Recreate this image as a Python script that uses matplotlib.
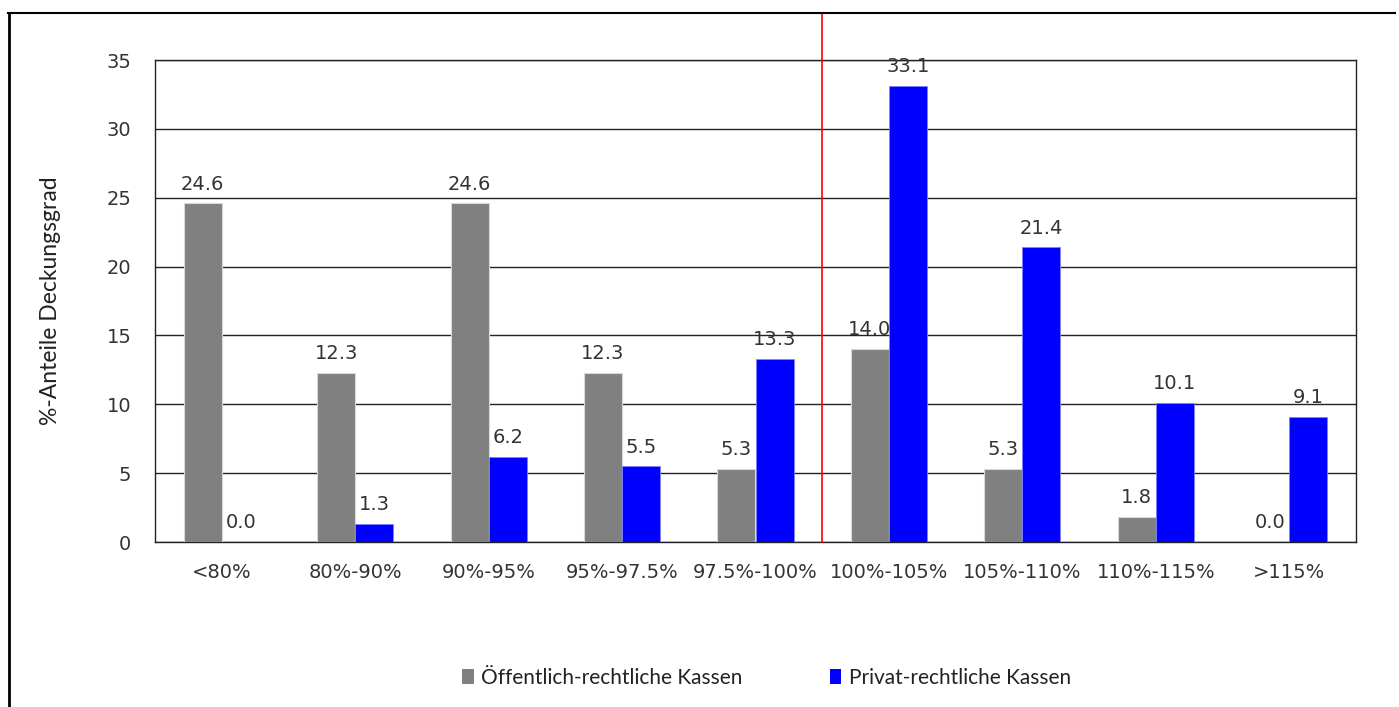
import matplotlib.pyplot as plt
from matplotlib.lines import Line2D
from matplotlib.patches import Patch
import numpy as np

categories = ["<80%", "80%-90%", "90%-95%", "95%-97.5%", "97.5%-100%",
              "100%-105%", "105%-110%", "110%-115%", ">115%"]
oeffentlich = [24.6, 12.3, 24.6, 12.3, 5.3, 14.0, 5.3, 1.8, 0.0]
privat = [0.0, 1.3, 6.2, 5.5, 13.3, 33.1, 21.4, 10.1, 9.1]

plt.rcParams["font.family"] = ["DejaVu Sans"]
txt = "#333333"

fig = plt.figure(figsize=(13.99, 7.07), dpi=100)
ax = fig.add_axes([155 / 1399, 1 - 542 / 707, 1201 / 1399, 482 / 707])

x = np.arange(len(categories))
w = 0.285
ax.bar(x - w / 2, oeffentlich, w, color="#808080", edgecolor="#d8d8d8", linewidth=0.8,
       label="Öffentlich-rechtliche Kassen", zorder=3)
ax.bar(x + w / 2, privat, w, color="#0000ff", edgecolor="#8080ff", linewidth=0.6,
       label="Privat-rechtliche Kassen", zorder=3)

for xi, v in zip(x, oeffentlich):
    ax.annotate(f"{v:.1f}", (xi - w / 2, v), xytext=(0, 7), textcoords="offset points",
                ha="center", va="bottom", fontsize=14, color=txt, zorder=5)
for xi, v in zip(x, privat):
    ax.annotate(f"{v:.1f}", (xi + w / 2, v), xytext=(0, 7), textcoords="offset points",
                ha="center", va="bottom", fontsize=14, color=txt, zorder=5)

ax.set_xlim(-0.5, len(categories) - 0.5)
ax.set_ylim(0, 35)
ax.set_yticks(range(0, 36, 5))
ax.yaxis.grid(True, color="#222222", linewidth=1.0, zorder=0)
ax.set_xticks(x)
ax.set_xticklabels(categories)
ax.tick_params(axis="y", length=0, pad=17, labelsize=14, labelcolor=txt)
ax.tick_params(axis="x", length=0, pad=15, labelsize=14, labelcolor=txt)
for s in ax.spines.values():
    s.set_color("#222222")
    s.set_linewidth(1.0)

ax.set_ylabel("%-Anteile Deckungsgrad", fontsize=16.5, color="#222222", labelpad=33,
              family=["Lato", "DejaVu Sans"])

# red separator line between 97.5%-100% and 100%-105%
ax.axvline(4.5, ymin=0, ymax=(542 - 13) / 482, color="red", linewidth=1.2,
           clip_on=False, zorder=4)

handles = [Patch(facecolor="#808080", edgecolor="none"),
           Patch(facecolor="#0000ff", edgecolor="none")]
fig.legend(handles, ["Öffentlich-rechtliche Kassen", "Privat-rechtliche Kassen"],
           loc="center", bbox_to_anchor=(0.548, 1 - 678 / 707), ncol=2, frameon=False,
           prop={"family": ["Lato", "DejaVu Sans"], "size": 15},
           handlelength=0.55, handleheight=0.75, handletextpad=0.35,
           columnspacing=4.2, labelcolor="#222222")

# outer frame
fig.add_artist(Line2D([8 / 1399, 1395 / 1399], [1 - 13 / 707, 1 - 13 / 707],
                      transform=fig.transFigure, color="black", linewidth=1.5))
fig.add_artist(Line2D([9 / 1399, 9 / 1399], [0, 1 - 13 / 707],
                      transform=fig.transFigure, color="black", linewidth=2))

fig.savefig("out.png", dpi=100)
